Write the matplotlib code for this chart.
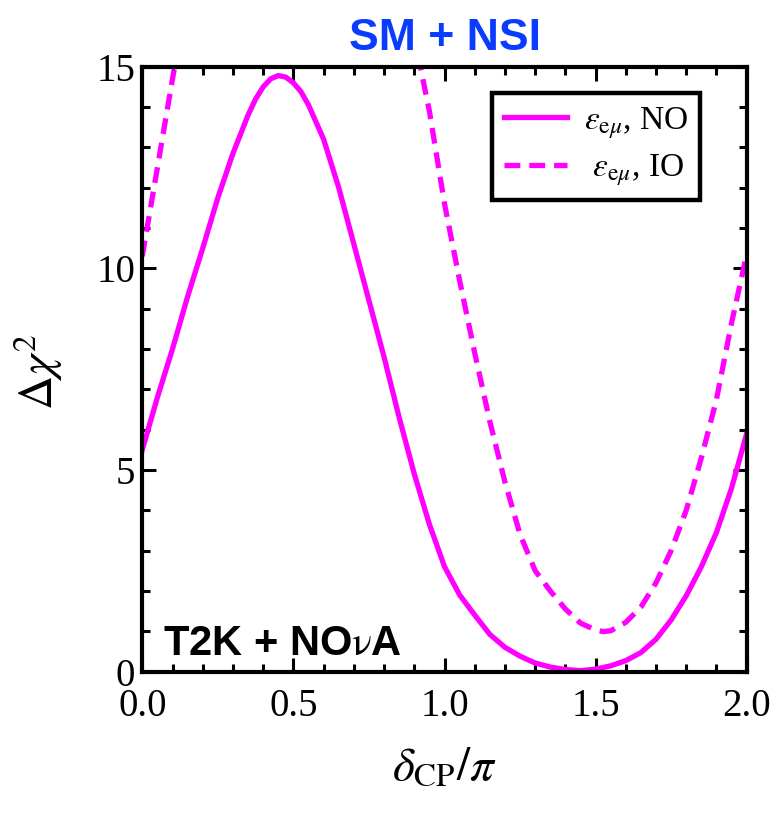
import numpy as np
import matplotlib
matplotlib.use("Agg")
import matplotlib.pyplot as plt

# ---- data ----
x_no = [0.0, 0.05, 0.1, 0.15, 0.2, 0.25, 0.3, 0.35, 0.375, 0.4, 0.425, 0.45, 0.475, 0.5,
        0.525, 0.55, 0.6, 0.65, 0.7, 0.75, 0.8, 0.85, 0.9, 0.95, 1.0, 1.05, 1.1, 1.15,
        1.2, 1.25, 1.3, 1.35, 1.4, 1.45, 1.5, 1.55, 1.6, 1.65, 1.7, 1.75, 1.8, 1.85,
        1.9, 1.95, 2.0]
chi_no = [5.5, 6.8, 8.0, 9.3, 10.5, 11.75, 12.85, 13.8, 14.2, 14.5, 14.7, 14.78, 14.74, 14.6,
          14.38, 14.05, 13.2, 12.0, 10.6, 9.2, 7.8, 6.3, 4.9, 3.65, 2.6, 1.9, 1.4, 0.92,
          0.6, 0.38, 0.21, 0.11, 0.05, 0.02, 0.06, 0.14, 0.27, 0.47, 0.8, 1.28, 1.88, 2.6,
          3.45, 4.55, 5.9]

x_io_a = [0.0, 0.05, 0.1, 0.15]
chi_io_a = [10.3, 12.5, 14.7, 16.8]
x_io_b = [0.88, 0.92, 0.95, 1.0, 1.05, 1.1, 1.15, 1.2, 1.25, 1.3, 1.35, 1.4, 1.45, 1.5,
          1.525, 1.55, 1.6, 1.65, 1.7, 1.75, 1.8, 1.85, 1.9, 1.95, 2.0]
chi_io_b = [16.5, 15.0, 13.9, 11.6, 9.7, 7.9, 6.2, 4.7, 3.4, 2.5, 2.0, 1.55, 1.2, 1.03,
            0.99, 1.01, 1.22, 1.6, 2.2, 3.0, 4.0, 5.3, 6.75, 8.65, 10.35]

labels = [r"$\varepsilon_{\mathrm{e}\mu}$, NO", r" $\varepsilon_{\mathrm{e}\mu}$, IO"]
title = "SM + NSI"
inset_text = r"T2K + NO$\mathrm{\nu}$A"

# ---- style ----
plt.rcParams['font.family'] = ['Liberation Serif', 'DejaVu Serif']
plt.rcParams['mathtext.fontset'] = 'stix'

W, H = 784, 814
fig = plt.figure(figsize=(W / 100, H / 100), dpi=100)
l, r, b, t = 142.3, 746.7, 671.5, 66.7
ax = fig.add_axes([l / W, 1 - b / H, (r - l) / W, (b - t) / H])

col = '#ff00ff'
ax.plot(x_no, chi_no, color=col, lw=3.8, solid_joinstyle='round', label=labels[0])
ax.plot(x_io_a, chi_io_a, color=col, lw=3.8, dashes=(3.0, 1.7), label=labels[1])
ax.plot(x_io_b, chi_io_b, color=col, lw=3.8, dashes=(3.0, 1.7))

ax.set_xlim(0, 2)
ax.set_ylim(0, 15)
ax.set_xticks([0, 0.5, 1.0, 1.5, 2.0])
ax.set_xticklabels(['0.0', '0.5', '1.0', '1.5', '2.0'])
ax.set_xticks(np.arange(0, 2.001, 0.1), minor=True)
ax.set_yticks([0, 5, 10, 15])
ax.set_yticks(np.arange(0, 15.01, 1), minor=True)

for s in ax.spines.values():
    s.set_linewidth(3.0)
ax.tick_params(which='both', direction='in', top=True, right=True, width=2.2, labelsize=28)
ax.tick_params(which='major', length=10)
ax.tick_params(which='minor', length=5.5)
ax.tick_params(axis='x', which='major', pad=12)
ax.tick_params(axis='y', which='major', pad=5)

ax.set_xlabel(r"$\delta_{\mathrm{CP}}/\pi$", fontsize=34)
ax.set_ylabel(r"$\Delta\chi^2$", fontsize=34)
ax.xaxis.set_label_coords(0.5, -0.125)
ax.yaxis.set_label_coords(-0.128, 0.495)

ax.set_title(title, fontsize=32, fontweight='bold', color='#0a3cff',
             family='Liberation Sans', pad=12)

ax.text(0.034, 0.027, inset_text, transform=ax.transAxes, fontsize=30,
        fontweight='bold', family='Liberation Sans', va='baseline', ha='left')

leg = ax.legend(loc='upper right', bbox_to_anchor=(0.923, 0.956), fontsize=24,
                frameon=True, fancybox=False, framealpha=1, handlelength=1.9,
                handletextpad=0.5, borderpad=0.35, labelspacing=0.35, borderaxespad=0)
leg.get_frame().set_edgecolor('black')
leg.get_frame().set_linewidth(3.2)

fig.savefig('out.png', dpi=100)
